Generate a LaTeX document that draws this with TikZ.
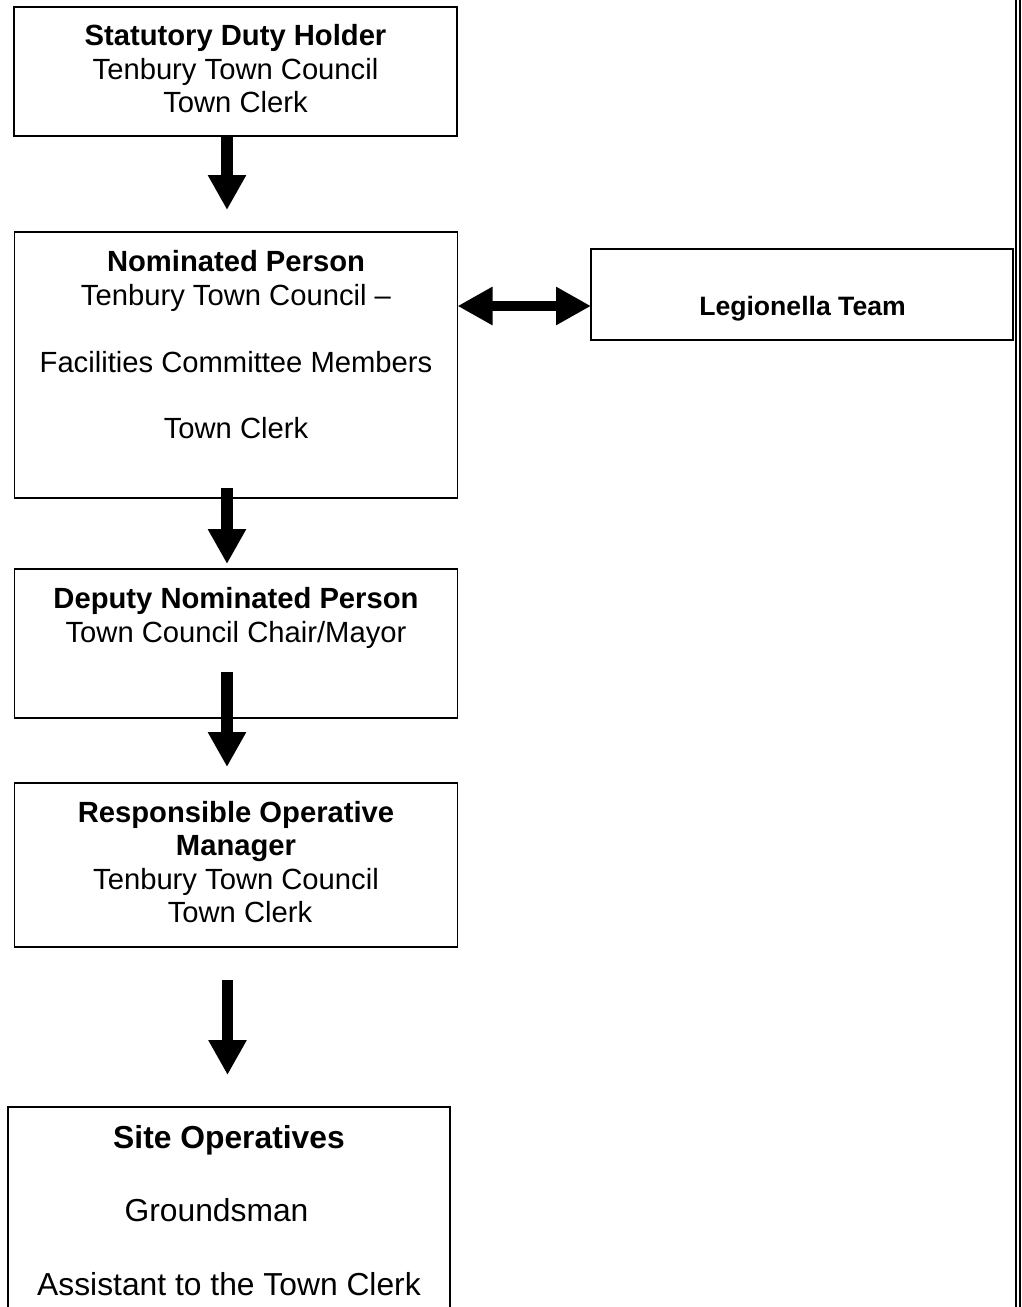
\documentclass[tikz,border=0pt]{standalone}
\usepackage{fontspec}
\setmainfont{Liberation Sans}
\usetikzlibrary{arrows.meta}
\newcommand{\boxwidth}{443pt}
\tikzset{
    box/.style={draw, rectangle, line width=1.8pt, outer sep=0pt, inner sep=0pt, minimum width=\boxwidth, anchor=north},
    boxtext/.style={anchor=north, inner sep=0pt, align=center, font=\fontsize{29.2pt}{33.4pt}\selectfont},
    bigtext/.style={boxtext, font=\fontsize{31.8pt}{36.7pt}\selectfont},
    flow/.style={line width=11.5pt, -{Triangle[length=35pt, width=36pt]}},
    link/.style={line width=10.5pt, {Triangle[length=35pt, width=36pt]}-{Triangle[length=35pt, width=36pt]}},
    border/.style={line width=2pt}
}

\begin{document}
\begin{tikzpicture}[x=1pt, y=1pt]
      \useasboundingbox (0,0) rectangle (1021,-1307);

      \path
          node[box, minimum height=129pt] (duty) at (235.5,-7) {}
          node[box, minimum height=266pt] (nominated) at (236,-232) {}
          node[box, minimum height=149pt] (deputy) at (236,-569) {}
          node[box, minimum height=164pt] (manager) at (236,-783) {}
          node[box, minimum height=230pt, minimum width=442pt] (operatives) at (229,-1107) {}
          node[box, minimum height=91pt, minimum width=422pt] (legionella) at (802,-249) {};

      \node[boxtext] (duty-text) at ([yshift=-17.5pt]duty.north)
          {\textbf{Statutory Duty Holder}\\Tenbury Town Council\\Town Clerk};
      \node[boxtext] (nominated-text) at ([yshift=-18.5pt]nominated.north)
          {\textbf{Nominated Person}\\Tenbury Town Council –\\[\baselineskip]Facilities Committee Members\\[\baselineskip]Town Clerk};
      \node[boxtext] (deputy-text) at ([yshift=-18.5pt]deputy.north)
          {\textbf{Deputy Nominated Person}\\Town Council Chair/Mayor};
      \node[boxtext] (manager-text) at ([yshift=-18pt]manager.north)
          {\textbf{Responsible Operative}\\\textbf{Manager}\\Tenbury Town Council\\\hspace*{8pt}Town Clerk};
      \node[bigtext] (operatives-text) at ([yshift=-18pt]operatives.north)
          {\textbf{Site Operatives}\\[\baselineskip]\mbox{Groundsman\hspace*{25pt}}\\[\baselineskip]Assistant to the Town Clerk};
      \node[anchor=base, inner sep=0pt, font=\bfseries\fontsize{26.6pt}{30pt}\selectfont] (legionella-text) at (802.5,-315) {Legionella Team};

      \draw[flow, shorten >=22pt] ([xshift=-8.5pt]duty.south) -- ([xshift=-9pt]nominated.north);
      \draw[flow, shorten <=-10pt, shorten >=5pt] ([xshift=-9pt]nominated.south) -- ([xshift=-9pt]deputy.north);
      \draw[flow, shorten <=-46pt, shorten >=16pt] ([xshift=-9pt]deputy.south) -- ([xshift=-9pt]manager.north);
      \draw[flow, shorten <=33pt, shorten >=32pt] ([xshift=-8.5pt]manager.south) -- ([xshift=-1.5pt]operatives.north);

      \coordinate (link) at (0,-306);
      \draw[link] (nominated.east |- link) -- (legionella.west |- link);

      \draw[border] (1016,0) -- (1016,-1307) (1020,0) -- (1020,-1307);
    \end{tikzpicture}
\end{document}
